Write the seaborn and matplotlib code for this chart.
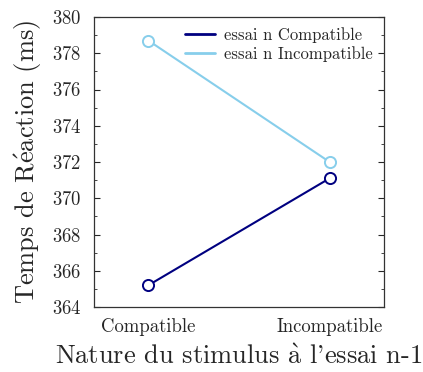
import matplotlib
matplotlib.use("Agg")
import matplotlib.pyplot as plt
import seaborn as sns
import pandas as pd
from matplotlib.ticker import MultipleLocator

categories = ["Compatible", "Incompatible"]
series_names = ["essai n Compatible", "essai n Incompatible"]
rt_compatible = [365.2, 371.1]
rt_incompatible = [378.7, 372.0]
colors = ["#000080", "#87CEEB"]

df = pd.DataFrame({
    "x": list(range(len(categories))) * 2,
    "rt": rt_compatible + rt_incompatible,
    "serie": [series_names[0]] * 2 + [series_names[1]] * 2,
})

sns.set_style("white")
plt.rcParams["font.family"] = ["cmr10", "DejaVu Serif"]
plt.rcParams["axes.formatter.use_mathtext"] = True
plt.rcParams["mathtext.fontset"] = "cm"

fig = plt.figure(figsize=(4.23, 3.72), dpi=100)
ax = fig.add_axes([94 / 423, 1 - 307 / 372, 290 / 423, 290 / 372])

sns.lineplot(data=df, x="x", y="rt", hue="serie", palette=colors, marker="o",
             markersize=8, markerfacecolor="white", markeredgewidth=1.4,
             linewidth=1.5, ax=ax)
for line in ax.lines:
    line.set_markeredgecolor(line.get_color())

ax.set_xlim(-0.3, 1.3)
ax.set_ylim(364, 380)
ax.set_xticks(range(len(categories)))
ax.set_xticklabels(categories, fontsize=13.5)
ax.tick_params(axis="x", length=0, pad=8)
ax.yaxis.set_major_locator(MultipleLocator(2))
ax.yaxis.set_minor_locator(MultipleLocator(1))
ax.tick_params(axis="y", which="major", direction="in", left=True, right=True,
               labelsize=13.5, length=4, pad=9)
ax.tick_params(axis="y", which="minor", direction="in", left=True, right=True,
               length=2)
for s in ax.spines.values():
    s.set_color("#333333")
    s.set_linewidth(0.9)

ax.set_xlabel(r"Nature du stimulus $\mathrm{\grave{a}}$ l'essai n-1", fontsize=19, labelpad=6)
ax.set_ylabel(r"Temps de R$\mathrm{\acute{e}}$action (ms)", fontsize=19, labelpad=6)

leg = ax.legend(loc="upper right", bbox_to_anchor=(0.962, 0.965), frameon=False,
                fontsize=12, handlelength=1.8, handletextpad=0.55,
                borderpad=0, borderaxespad=0, labelspacing=0.18)
for h in leg.get_lines():
    h.set_marker("")
    h.set_linewidth(2)

fig.savefig("out.png", dpi=100)
